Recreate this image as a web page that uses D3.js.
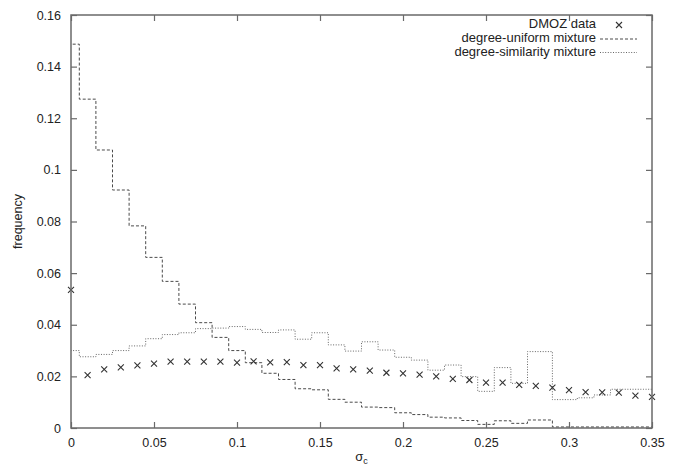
<!DOCTYPE html>
<html>
<head>
<meta charset="utf-8">
<script src="https://cdn.jsdelivr.net/npm/d3@7"></script>
<style>
  html, body { margin: 0; padding: 0; background: #fff; }
  svg { display: block; }
  text { font-family: "Liberation Sans", Arial, Helvetica, sans-serif; fill: #222; }
</style>
</head>
<body>
<svg id="chart" width="679" height="467"></svg>
<script>
// ---- data ----
const dmozX = [0,0.01,0.02,0.03,0.04,0.05,0.06,0.07,0.08,0.09,0.10,0.11,0.12,0.13,0.14,0.15,0.16,0.17,0.18,0.19,0.20,0.21,0.22,0.23,0.24,0.25,0.26,0.27,0.28,0.29,0.30,0.31,0.32,0.33,0.34,0.35];
const dmozY = [0.0535,0.0205,0.0227,0.0235,0.0243,0.0249,0.0257,0.0257,0.0257,0.0257,0.0253,0.0258,0.0254,0.0255,0.0244,0.0244,0.0231,0.0227,0.0222,0.0214,0.0212,0.0207,0.0200,0.0190,0.0186,0.0176,0.0176,0.0167,0.0163,0.0156,0.0147,0.0139,0.0138,0.0137,0.0125,0.0121];

const modelX = [0,0.01,0.02,0.03,0.04,0.05,0.06,0.07,0.08,0.09,0.10,0.11,0.12,0.13,0.14,0.15,0.16,0.17,0.18,0.19,0.20,0.21,0.22,0.23,0.24,0.25,0.26,0.27,0.28,0.30,0.31,0.32,0.33,0.34,0.35];
const uniformY = [0.1487,0.1274,0.1077,0.0922,0.0783,0.0661,0.0568,0.0480,0.0408,0.0351,0.0300,0.0253,0.0212,0.0188,0.0152,0.0148,0.0111,0.0100,0.0081,0.0079,0.0059,0.0052,0.0042,0.0039,0.0029,0.0014,0.0028,0.0018,0.0031,0.0004,0.0004,0.0004,0.0004,0.0004,0.0004];
const similarityY = [0.0300,0.0276,0.0285,0.0300,0.0318,0.0346,0.0362,0.0369,0.0385,0.0387,0.0393,0.0382,0.0370,0.0380,0.0344,0.0369,0.0322,0.0298,0.0334,0.0302,0.0274,0.0263,0.0224,0.0244,0.0199,0.0142,0.0234,0.0173,0.0296,0.0110,0.0117,0.0128,0.0150,0.0150,0.0150];

const xTicks = [0,0.05,0.1,0.15,0.2,0.25,0.3,0.35];
const xTickLabels = ["0","0.05","0.1","0.15","0.2","0.25","0.3","0.35"];
const yTicks = [0,0.02,0.04,0.06,0.08,0.1,0.12,0.14,0.16];
const yTickLabels = ["0","0.02","0.04","0.06","0.08","0.1","0.12","0.14","0.16"];
const legendLabels = ["DMOZ data","degree-uniform mixture","degree-similarity mixture"];

// ---- layout ----
const margin = {left: 71, right: 27, top: 15, bottom: 39};
const W = 679, H = 467;
const svg = d3.select("#chart");
const x = d3.scaleLinear().domain([0, 0.35]).range([margin.left, W - margin.right]);
const y = d3.scaleLinear().domain([0, 0.16]).range([H - margin.bottom, margin.top]);

const axisColor = "#6a6a6a";
const dashColor = "#4a4a4a";
const dotColor = "#666";

svg.append("defs").append("clipPath").attr("id", "plotclip")
  .append("rect")
  .attr("x", x(0)).attr("y", y(0.16))
  .attr("width", x(0.35) - x(0)).attr("height", y(0) - y(0.16));

// histeps vertices (gnuplot style) derived from data
function histeps(xs, ys) {
  const pts = [];
  const n = xs.length;
  for (let i = 0; i < n; i++) {
    const left = i === 0 ? xs[0] - (xs[1] - xs[0]) / 2 : (xs[i - 1] + xs[i]) / 2;
    const right = i === n - 1 ? xs[n - 1] + (xs[n - 1] - xs[n - 2]) / 2 : (xs[i] + xs[i + 1]) / 2;
    pts.push([left, ys[i]]);
    pts.push([right, ys[i]]);
  }
  return pts;
}
const line = d3.line().x(d => x(d[0])).y(d => y(d[1]));

const plot = svg.append("g").attr("clip-path", "url(#plotclip)");
plot.append("path")
  .attr("d", line(histeps(modelX, uniformY)))
  .attr("fill", "none").attr("stroke", dashColor).attr("stroke-width", 1)
  .attr("stroke-dasharray", "3,2");
plot.append("path")
  .attr("d", line(histeps(modelX, similarityY)))
  .attr("fill", "none").attr("stroke", dotColor).attr("stroke-width", 1)
  .attr("stroke-dasharray", "1,1.6");

// crosses
const cs = 3;
function cross(g, cx, cy) {
  g.append("path")
    .attr("d", `M${cx - cs},${cy - cs}L${cx + cs},${cy + cs}M${cx - cs},${cy + cs}L${cx + cs},${cy - cs}`)
    .attr("stroke", "#333").attr("stroke-width", 1.1).attr("fill", "none");
}
const crossG = svg.append("g");
dmozX.forEach((v, i) => cross(crossG, x(v), y(dmozY[i])));

// axes (gnuplot-like: ticks inward, mirrored)
const tl = 6;
const axB = d3.axisBottom(x).tickValues(xTicks).tickFormat((d, i) => xTickLabels[i]).tickSizeInner(-tl).tickSizeOuter(0).tickPadding(10);
const axL = d3.axisLeft(y).tickValues(yTicks).tickFormat((d, i) => yTickLabels[i]).tickSizeInner(-tl).tickSizeOuter(0).tickPadding(10);
const axT = d3.axisTop(x).tickValues(xTicks).tickFormat("").tickSizeInner(-tl).tickSizeOuter(0);
const axR = d3.axisRight(y).tickValues(yTicks).tickFormat("").tickSizeInner(-tl).tickSizeOuter(0);

function styleAxis(g) {
  g.select(".domain").remove();
  g.selectAll(".tick line").attr("stroke", axisColor).attr("stroke-width", 1.2);
  g.selectAll(".tick text").attr("font-size", 12.5).attr("fill", "#222")
    .attr("font-family", "'Liberation Sans', Arial, sans-serif");
}
svg.append("g").attr("transform", `translate(0,${y(0)})`).call(axB).call(styleAxis);
svg.append("g").attr("transform", `translate(${x(0)},0)`).call(axL).call(styleAxis);
svg.append("g").attr("transform", `translate(0,${y(0.16)})`).call(axT).call(styleAxis);
svg.append("g").attr("transform", `translate(${x(0.35)},0)`).call(axR).call(styleAxis);

svg.append("rect")
  .attr("x", x(0)).attr("y", y(0.16))
  .attr("width", x(0.35) - x(0)).attr("height", y(0) - y(0.16))
  .attr("fill", "none").attr("stroke", axisColor).attr("stroke-width", 1.5);

// axis titles
svg.append("text")
  .attr("transform", `translate(19,${(y(0) + y(0.16)) / 2}) rotate(-90)`)
  .attr("text-anchor", "middle").attr("dominant-baseline", "middle")
  .attr("font-size", 12.5).text("frequency");

const xl = svg.append("text")
  .attr("x", (x(0) + x(0.35)) / 2).attr("y", 461)
  .attr("text-anchor", "middle").attr("font-size", 13);
xl.append("tspan").text("σ");
xl.append("tspan").attr("dy", 3).attr("font-size", 9).text("c");

// legend
const lgX = 596, lgRows = [25, 39, 52.5];
const lsx0 = 600, lsx1 = 637;
lgRows.forEach((ry, i) => {
  svg.append("text").attr("x", lgX).attr("y", ry)
    .attr("text-anchor", "end").attr("dominant-baseline", "middle")
    .attr("font-size", 13).text(legendLabels[i]);
});
{
  const cx = (lsx0 + lsx1) / 2 + 0.5, cy = lgRows[0];
  cross(svg, cx, cy);
}
svg.append("line").attr("x1", lsx0).attr("x2", lsx1).attr("y1", lgRows[1]).attr("y2", lgRows[1])
  .attr("stroke", dashColor).attr("stroke-width", 1).attr("stroke-dasharray", "3,2");
svg.append("line").attr("x1", lsx0).attr("x2", lsx1).attr("y1", lgRows[2]).attr("y2", lgRows[2])
  .attr("stroke", dotColor).attr("stroke-width", 1).attr("stroke-dasharray", "1,1.6");
</script>
</body>
</html>
